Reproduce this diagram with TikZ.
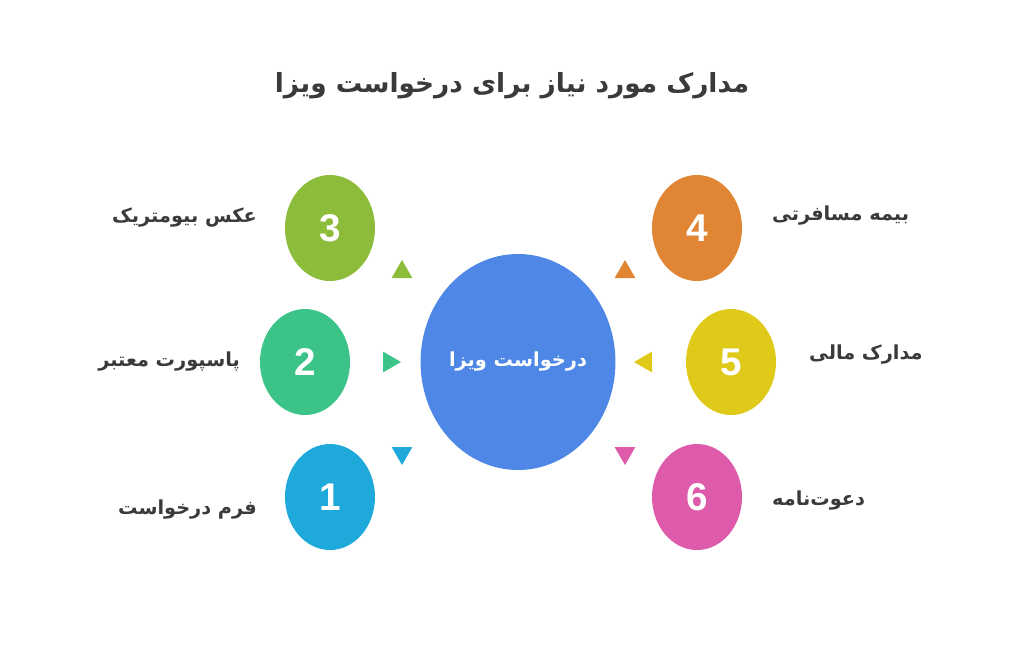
\documentclass[tikz,border=0pt]{standalone}
\usepackage{fontspec}
\TeXXeTstate=1
\newfontfamily\arabicfont[Script=Arabic]{DejaVu Sans}
\newfontfamily\numfont{Liberation Sans}
\definecolor{cmain}{HTML}{4E87E6}
\definecolor{cthree}{HTML}{8DBB3A}
\definecolor{ctwo}{HTML}{3CC488}
\definecolor{cone}{HTML}{1FA9DB}
\definecolor{cfour}{HTML}{E08533}
\definecolor{cfive}{HTML}{DFCA1A}
\definecolor{csix}{HTML}{DE5BAB}
\definecolor{ctext}{HTML}{3A3A3A}
\tikzset{
  num/.style={ellipse,minimum width=90\pxu,minimum height=106\pxu,inner sep=0pt,text=white,font=\numfont\bfseries\fontsize{22}{22}\selectfont},
  lbl/.style={text=ctext,font=\arabicfont\bfseries\fontsize{11}{13}\selectfont},
  tri/.style={regular polygon,regular polygon sides=3,minimum size=24\pxu,inner sep=0pt}
}
\newlength\pxu \setlength\pxu{0.02cm}
\usetikzlibrary{shapes.geometric}
\begin{document}
\begin{tikzpicture}[x=0.02cm,y=-0.02cm]
\useasboundingbox (0,0) rectangle (1024,647);
\node[font=\arabicfont\bfseries\fontsize{15}{18}\selectfont,text=ctext] (title) at (512,86) {\beginR مدارک مورد نیاز برای درخواست ویزا\endR};
\node[ellipse,fill=cmain,minimum width=184\pxu,minimum height=216\pxu,inner sep=0pt,text=white,font=\arabicfont\bfseries\fontsize{11}{13}\selectfont] (c) at (518,362) {\beginR درخواست ویزا\endR};
\node[num,fill=cthree] (n3) at (330,228) {3};
\node[num,fill=ctwo] (n2) at (305,362) {2};
\node[num,fill=cone] (n1) at (330,497) {1};
\node[num,fill=cfour] (n4) at (697,228) {4};
\node[num,fill=cfive] (n5) at (731,362) {5};
\node[num,fill=csix] (n6) at (697,497) {6};
\node[tri,fill=cthree] (t3) at (402,272) {};
\node[tri,fill=ctwo,shape border rotate=-90] (t2) at (389,362) {};
\node[tri,fill=cone,shape border rotate=180] (t1) at (402,453) {};
\node[tri,fill=cfour] (t4) at (625,272) {};
\node[tri,fill=cfive,shape border rotate=90] (t5) at (646,362) {};
\node[tri,fill=csix,shape border rotate=180] (t6) at (625,453) {};
\node[lbl,anchor=east] (l3) at (263,218) {\beginR عکس بیومتریک\endR};
\node[lbl,anchor=east] (l2) at (246,362) {\beginR پاسپورت معتبر\endR};
\node[lbl,anchor=east] (l1) at (263,510) {\beginR فرم درخواست\endR};
\node[lbl,anchor=west] (l4) at (766,216) {\beginR بیمه مسافرتی\endR};
\node[lbl,anchor=west] (l5) at (803,355) {\beginR مدارک مالی\endR};
\node[lbl,anchor=west] (l6) at (766,501) {\beginR دعوت‌نامه\endR};
\end{tikzpicture}
\end{document}
